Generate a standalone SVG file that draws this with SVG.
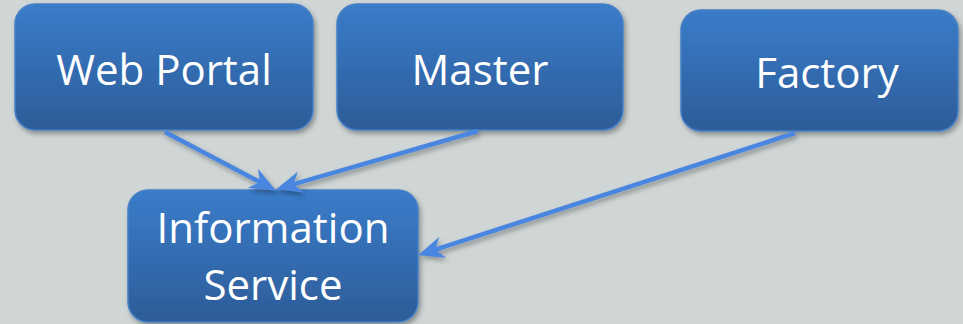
<svg xmlns="http://www.w3.org/2000/svg" width="963" height="324" viewBox="0 0 963 324">
  <defs>
    <linearGradient id="boxFill" x1="0" y1="0" x2="0" y2="1">
      <stop offset="0" stop-color="#3a7cca"/>
      <stop offset="1" stop-color="#2d5c98"/>
    </linearGradient>
    <filter id="shadow" x="-10%" y="-10%" width="130%" height="140%">
      <feDropShadow dx="2" dy="3" stdDeviation="2.5" flood-color="#000" flood-opacity="0.35"/>
    </filter>
    <marker id="arrow" markerUnits="userSpaceOnUse" markerWidth="30" markerHeight="30" refX="0" refY="0" orient="auto" overflow="visible">
      <path d="M15,0 L-11,-11 L-3,0 L-11,11 Z" fill="#4a86e0"/>
    </marker>
  </defs>
  <style>
    .box { fill: url(#boxFill); stroke: #4680c6; stroke-width: 1.5; filter: url(#shadow); }
    .label { font-family: "Open Sans", "Liberation Sans", sans-serif; font-size: 42px; fill: #ffffff; text-anchor: middle; }
    .edge { stroke: #4a86e0; stroke-width: 4.5; fill: none; marker-end: url(#arrow); filter: url(#shadow); }
  </style>
  <rect width="963" height="324" fill="#d0d6d6"/>

  <g id="web-portal">
    <rect class="box" x="15" y="4" width="298" height="126" rx="20"/>
    <text class="label" x="164" y="85">Web Portal</text>
  </g>
  <g id="master">
    <rect class="box" x="337" y="4" width="286" height="126" rx="20"/>
    <text class="label" x="480" y="85">Master</text>
  </g>
  <g id="factory">
    <rect class="box" x="681" y="10" width="277" height="121" rx="20"/>
    <text class="label" x="827" y="88">Factory</text>
  </g>
  <g id="information-service">
    <rect class="box" x="128" y="190" width="290" height="132" rx="20"/>
    <text class="label" x="273" y="243">Information</text>
    <text class="label" x="273" y="300">Service</text>
  </g>

  <g id="connectors">
    <line class="edge" x1="165" y1="132" x2="262.6" y2="183.5"/>
    <line class="edge" x1="478" y1="131" x2="290.5" y2="185.1"/>
    <line class="edge" x1="795" y1="133" x2="432.3" y2="250.7"/>
  </g>
</svg>
